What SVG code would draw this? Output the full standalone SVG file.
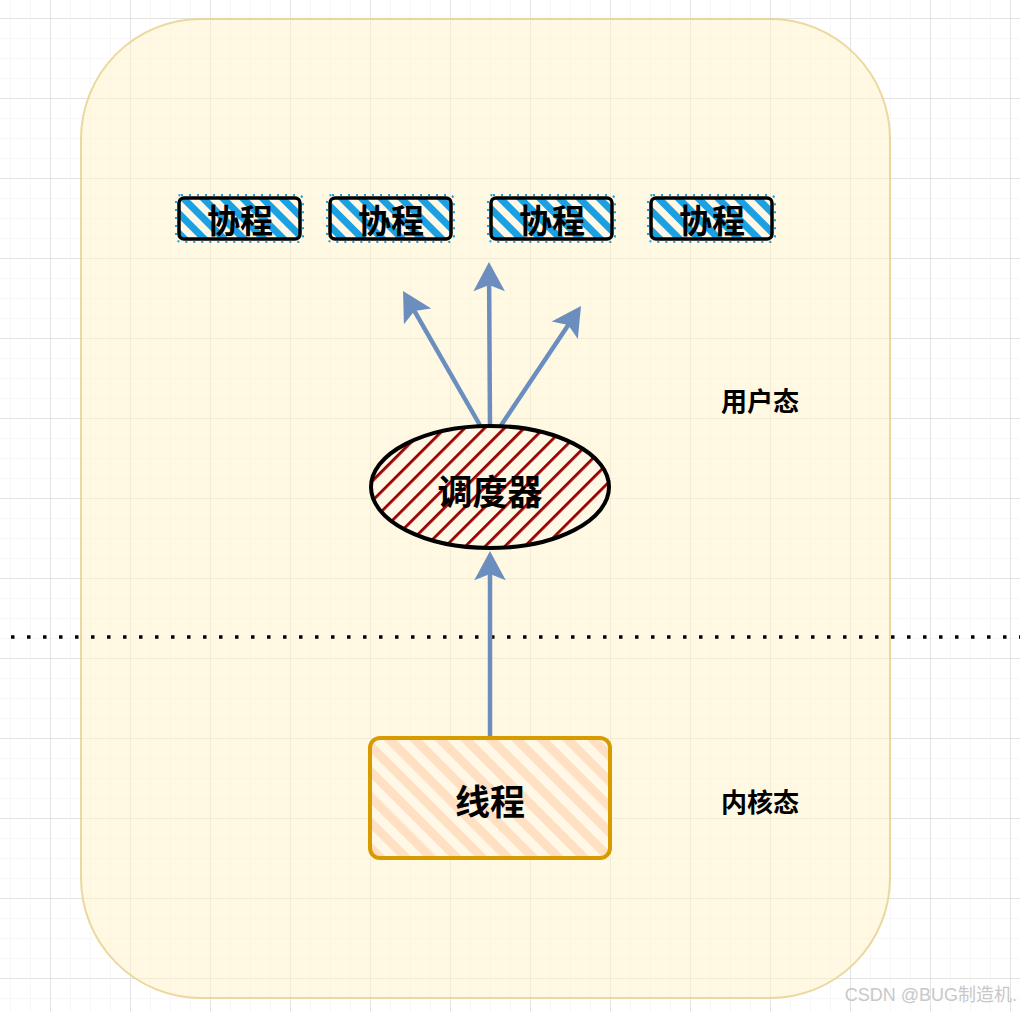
<svg xmlns="http://www.w3.org/2000/svg" width="1020" height="1012" viewBox="0 0 1020 1012">
<style>
.lbl{font-family:"Noto Sans CJK SC","Liberation Sans",sans-serif;font-weight:bold;fill:#000;text-anchor:middle;dominant-baseline:central}
.co{stroke:#000;stroke-width:3.5;fill:url(#blue)}
.co2{fill:none;stroke:#1ba1e2;stroke-width:2;stroke-dasharray:2 6}
.edge{stroke:#6c8ebf;stroke-width:4.5;fill:none;marker-end:url(#arr)}
</style>
<defs>
<pattern id="minor" width="20" height="20" patternUnits="userSpaceOnUse" x="10" y="18">
<path d="M0 0H20M0 0V20" stroke="#efefef" stroke-width="1" fill="none"/>
</pattern>
<pattern id="major" width="80" height="80" patternUnits="userSpaceOnUse" x="50" y="18">
<path d="M0 0H80M0 0V80" stroke="#cfcfcf" stroke-width="1" fill="none"/>
</pattern>
<pattern id="blue" width="14" height="14" patternUnits="userSpaceOnUse" patternTransform="rotate(-45)">
<rect width="14" height="14" fill="#fff8e6"/>
<rect width="7" height="14" fill="#1ba1e2"/>
</pattern>
<pattern id="red" width="14" height="14" patternUnits="userSpaceOnUse" patternTransform="rotate(45)">
<rect width="14" height="14" fill="#fff8e6"/>
<rect width="2.8" height="14" fill="#990000"/>
</pattern>
<pattern id="orange" width="18" height="18" patternUnits="userSpaceOnUse" patternTransform="rotate(-45)">
<rect width="18" height="18" fill="#fff8e6"/>
<rect width="9" height="18" fill="#ffe0c2"/>
</pattern>
<marker id="arr" markerWidth="8" markerHeight="8" refX="4.5" refY="3.5" orient="auto" markerUnits="strokeWidth" overflow="visible">
<path d="M0 0L6.5 3.5L0 7L1.4 3.5Z" fill="#6c8ebf"/>
</marker>
</defs>
<rect width="1020" height="1012" fill="#fff"/>
<rect width="1020" height="1012" fill="url(#minor)"/>
<rect width="1020" height="1012" fill="url(#major)"/>
<g id="container">
<rect x="81" y="19" width="809" height="979" rx="120" ry="120" fill="#fff2cc" fill-opacity="0.55" stroke="#e6cf8a" stroke-opacity="0.8" stroke-width="2"/>
</g>
<g id="divider">
<line x1="11" y1="637" x2="1020" y2="637" stroke="#000" stroke-width="3.5" stroke-dasharray="3.5 12.5"/>
</g>
<g id="coroutine1">
<rect class="co2" x="176" y="195" width="127" height="47" rx="5"/>
<rect class="co" x="179" y="198" width="121" height="41" rx="5"/>
<text class="lbl" x="240" y="219" font-size="33">协程</text>
</g>
<g id="coroutine2">
<rect class="co2" x="327" y="195" width="127" height="47" rx="5"/>
<rect class="co" x="330" y="198" width="121" height="41" rx="5"/>
<text class="lbl" x="391" y="219" font-size="33">协程</text>
</g>
<g id="coroutine3">
<rect class="co2" x="488" y="195" width="127" height="47" rx="5"/>
<rect class="co" x="491" y="198" width="121" height="41" rx="5"/>
<text class="lbl" x="552" y="219" font-size="33">协程</text>
</g>
<g id="coroutine4">
<rect class="co2" x="648" y="195" width="127" height="47" rx="5"/>
<rect class="co" x="651" y="198" width="121" height="41" rx="5"/>
<text class="lbl" x="712" y="219" font-size="33">协程</text>
</g>
<g id="connectors">
<line class="edge" x1="481" y1="427" x2="407.5" y2="298.8"/>
<line class="edge" x1="490" y1="427" x2="489.05" y2="271"/>
<line class="edge" x1="500" y1="427" x2="576" y2="313.5"/>
<line class="edge" x1="490" y1="736" x2="490" y2="560"/>
</g>
<g id="scheduler">
<ellipse cx="490" cy="487" rx="119" ry="61" fill="url(#red)" stroke="#000" stroke-width="4"/>
<text class="lbl" x="490" y="489" font-size="35">调度器</text>
</g>
<g id="thread">
<rect x="370" y="738" width="240" height="120" rx="10" fill="url(#orange)" stroke="#d79b00" stroke-width="4"/>
<text class="lbl" x="490" y="799" font-size="35">线程</text>
</g>
<g id="userspace">
<text class="lbl" x="760" y="399" font-size="26">用户态</text>
</g>
<g id="kernelspace">
<text class="lbl" x="760" y="800" font-size="26">内核态</text>
</g>
<text x="1017" y="1001" font-family="Liberation Sans,'Noto Sans CJK SC',sans-serif" font-size="18" fill="#c8c8c8" text-anchor="end">CSDN @BUG制造机.</text>
</svg>
